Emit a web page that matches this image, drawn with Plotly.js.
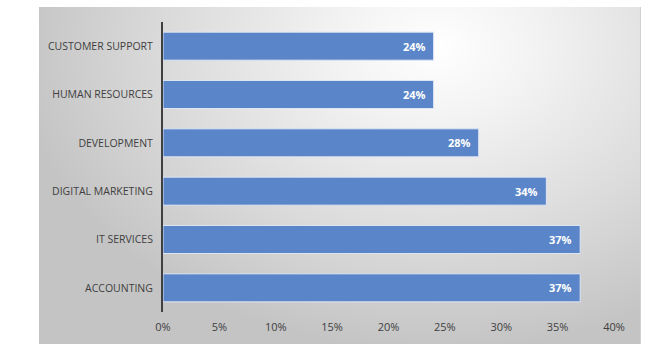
<!DOCTYPE html>
<html>
<head>
<meta charset="utf-8">
<script src="https://cdn.plot.ly/plotly-3.0.1.min.js"></script>
<style>
  html, body { margin: 0; padding: 0; background: #ffffff; }
  #wrap { position: relative; width: 667px; height: 349px; }
  #bg { position: absolute; left: 39px; top: 7px; width: 601px; height: 337px;
        background: radial-gradient(ellipse 70% 90% at 66% 12%, #ffffff 0%, #f2f2f2 25%, #dadada 65%, #c4c4c4 100%);
        border-right: 1px solid #d0d0d0; }
  #chart { position: absolute; left: 0; top: 0; width: 667px; height: 349px; }
</style>
</head>
<body>
<div id="wrap">
  <div id="bg"></div>
  <div id="chart"></div>
</div>
<script>
const categories = ["CUSTOMER SUPPORT", "HUMAN RESOURCES", "DEVELOPMENT", "DIGITAL MARKETING", "IT SERVICES", "ACCOUNTING"];
const values = [0.24, 0.24, 0.28, 0.34, 0.37, 0.37];
const tickValues = [0, 0.05, 0.10, 0.15, 0.20, 0.25, 0.30, 0.35, 0.40];
const tickLabels = ["0%", "5%", "10%", "15%", "20%", "25%", "30%", "35%", "40%"];
const valueLabels = values.map(v => Math.round(v * 100) + "%");

const trace = {
  type: "bar",
  orientation: "h",
  y: categories,
  x: values,
  marker: { color: "#5b85c9", line: { color: "#dfe6f3", width: 1 } },
  hoverinfo: "none"
};

const annotations = categories.map((c, i) => ({
  x: values[i],
  y: c,
  xref: "x",
  yref: "y",
  text: valueLabels[i],
  showarrow: false,
  xanchor: "right",
  yanchor: "middle",
  xshift: -6,
  font: { family: "Open Sans, sans-serif", size: 11, color: "#ffffff", weight: "bold" }
}));

const layout = {
  width: 667,
  height: 349,
  margin: { l: 163, r: 53, t: 22, b: 37 },
  paper_bgcolor: "rgba(0,0,0,0)",
  plot_bgcolor: "rgba(0,0,0,0)",
  bargap: 0.42,
  showlegend: false,
  annotations: annotations,
  font: { family: "Open Sans, sans-serif", size: 11, color: "#404040" },
  xaxis: {
    range: [0, 0.4],
    tickvals: tickValues,
    ticktext: tickLabels,
    showgrid: false,
    zeroline: false,
    showline: false,
    ticks: "",
    ticklabelstandoff: 7,
    tickfont: { family: "Open Sans, sans-serif", size: 11, color: "#404040" },
    fixedrange: true
  },
  yaxis: {
    type: "category",
    autorange: "reversed",
    showgrid: false,
    zeroline: false,
    showline: true,
    linecolor: "#404040",
    linewidth: 2,
    ticks: "",
    ticklabelstandoff: 6,
    tickfont: { family: "Open Sans, sans-serif", size: 10.5, color: "#404040" },
    fixedrange: true
  }
};

Plotly.newPlot("chart", [trace], layout, { displayModeBar: false, staticPlot: true });
</script>
</body>
</html>
